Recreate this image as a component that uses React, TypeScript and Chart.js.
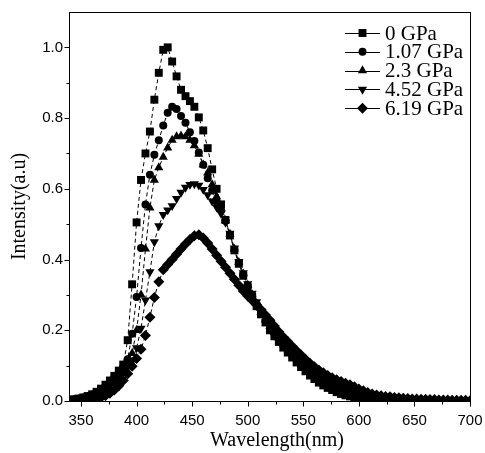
import React, { useEffect, useRef } from 'react';
import { Chart, registerables } from 'chart.js';
import { drawPoint } from 'chart.js/helpers';
Chart.register(...registerables);

const wavelengths = [
  340, 344, 348, 352, 356, 360, 364, 368, 372, 376,
  380, 384, 388, 392, 396, 400, 404, 408, 412, 416,
  420, 424, 428, 432, 436, 440, 444, 448, 452, 456,
  460, 464, 468, 472, 476, 480, 484, 488, 492, 496,
  500, 504, 508, 512, 516, 520, 524, 528, 532, 536,
  540, 544, 548, 552, 556, 560, 564, 568, 572, 576,
  580, 584, 588, 592, 596, 600, 604, 608, 612, 616,
  620, 624, 628, 632, 636, 640, 644, 648, 652, 656,
  660, 664, 668, 672, 676, 680, 684, 688, 692, 696,
  700,
];

const seriesLabels = ['0 GPa', '1.07 GPa', '2.3 GPa', '4.52 GPa', '6.19 GPa'];

const gpa0 = [
  0.003, 0.005, 0.007, 0.010, 0.014, 0.019, 0.026, 0.035, 0.046, 0.058,
  0.071, 0.086, 0.103, 0.172, 0.330, 0.505, 0.625, 0.700, 0.762, 0.852,
  0.928, 0.993, 1.000, 0.960, 0.918, 0.880, 0.862, 0.848, 0.832, 0.802,
  0.765, 0.715, 0.655, 0.600, 0.556, 0.512, 0.468, 0.426, 0.388, 0.354,
  0.322, 0.295, 0.268, 0.245, 0.222, 0.200, 0.183, 0.167, 0.151, 0.137,
  0.123, 0.109, 0.096, 0.084, 0.072, 0.062, 0.052, 0.044, 0.037, 0.031,
  0.025, 0.020, 0.016, 0.013, 0.010, 0.008, 0.006, 0.005, 0.004, 0.003,
  0.002, 0.002, 0.001, 0.001, 0.001, 0.001, 0.001, 0.000, 0.000, 0.000,
  0.000, 0.000, 0.000, 0.000, 0.000, 0.000, 0.000, 0.000, 0.000, 0.000,
  0.000,
];

const gpa107 = [
  0.002, 0.004, 0.006, 0.009, 0.013, 0.018, 0.024, 0.032, 0.042, 0.054,
  0.067, 0.081, 0.097, 0.118, 0.190, 0.294, 0.433, 0.556, 0.640, 0.696,
  0.737, 0.779, 0.815, 0.832, 0.826, 0.806, 0.787, 0.760, 0.735, 0.703,
  0.668, 0.630, 0.595, 0.565, 0.540, 0.510, 0.470, 0.428, 0.390, 0.357,
  0.325, 0.298, 0.272, 0.248, 0.226, 0.205, 0.189, 0.173, 0.157, 0.143,
  0.129, 0.116, 0.103, 0.091, 0.080, 0.069, 0.060, 0.051, 0.044, 0.037,
  0.031, 0.026, 0.022, 0.018, 0.015, 0.012, 0.010, 0.008, 0.006, 0.005,
  0.004, 0.003, 0.003, 0.002, 0.002, 0.002, 0.001, 0.001, 0.001, 0.001,
  0.001, 0.001, 0.000, 0.000, 0.000, 0.000, 0.000, 0.000, 0.000, 0.000,
  0.000,
];

const gpa23 = [
  0.002, 0.003, 0.005, 0.008, 0.011, 0.016, 0.022, 0.030, 0.039, 0.050,
  0.062, 0.076, 0.092, 0.110, 0.135, 0.200, 0.300, 0.430, 0.546, 0.625,
  0.660, 0.690, 0.716, 0.738, 0.748, 0.750, 0.748, 0.738, 0.722, 0.698,
  0.668, 0.645, 0.612, 0.578, 0.545, 0.510, 0.472, 0.430, 0.392, 0.360,
  0.328, 0.301, 0.276, 0.251, 0.230, 0.211, 0.195, 0.179, 0.164, 0.150,
  0.136, 0.123, 0.110, 0.098, 0.087, 0.077, 0.067, 0.058, 0.051, 0.044,
  0.038, 0.033, 0.028, 0.024, 0.020, 0.017, 0.014, 0.011, 0.009, 0.007,
  0.006, 0.005, 0.004, 0.003, 0.003, 0.002, 0.002, 0.002, 0.001, 0.001,
  0.001, 0.001, 0.001, 0.001, 0.000, 0.000, 0.000, 0.000, 0.000, 0.000,
  0.000,
];

const gpa452 = [
  0.001, 0.002, 0.004, 0.006, 0.009, 0.013, 0.018, 0.025, 0.033, 0.043,
  0.054, 0.066, 0.080, 0.096, 0.115, 0.150, 0.205, 0.285, 0.365, 0.450,
  0.495, 0.527, 0.540, 0.552, 0.572, 0.590, 0.604, 0.612, 0.614, 0.610,
  0.598, 0.583, 0.565, 0.548, 0.530, 0.505, 0.474, 0.432, 0.394, 0.362,
  0.331, 0.304, 0.280, 0.255, 0.235, 0.217, 0.201, 0.186, 0.171, 0.157,
  0.144, 0.131, 0.119, 0.107, 0.096, 0.086, 0.077, 0.068, 0.060, 0.053,
  0.047, 0.042, 0.037, 0.032, 0.028, 0.024, 0.020, 0.017, 0.014, 0.012,
  0.010, 0.008, 0.007, 0.006, 0.005, 0.004, 0.004, 0.003, 0.003, 0.002,
  0.002, 0.002, 0.002, 0.001, 0.001, 0.001, 0.001, 0.001, 0.001, 0.001,
  0.001,
];

const gpa619 = [
  0.000, 0.001, 0.002, 0.003, 0.004, 0.006, 0.008, 0.010, 0.015, 0.022,
  0.031, 0.043, 0.058, 0.077, 0.098, 0.120, 0.146, 0.185, 0.237, 0.293,
  0.337, 0.371, 0.386, 0.400, 0.415, 0.430, 0.444, 0.457, 0.467, 0.470,
  0.461, 0.447, 0.430, 0.412, 0.395, 0.378, 0.361, 0.344, 0.327, 0.311,
  0.297, 0.284, 0.272, 0.258, 0.243, 0.228, 0.212, 0.196, 0.181, 0.168,
  0.155, 0.142, 0.130, 0.118, 0.107, 0.097, 0.088, 0.080, 0.072, 0.066,
  0.060, 0.055, 0.050, 0.046, 0.040, 0.034, 0.029, 0.024, 0.020, 0.017,
  0.015, 0.013, 0.012, 0.010, 0.009, 0.008, 0.007, 0.006, 0.006, 0.005,
  0.005, 0.004, 0.004, 0.003, 0.003, 0.003, 0.002, 0.002, 0.002, 0.002,
  0.001,
];

const xTickValues = [350, 400, 450, 500, 550, 600, 650, 700];
const yTickValues = [0, 0.2, 0.4, 0.6, 0.8, 1.0];
const xTitle = 'Wavelength(nm)';
const yTitle = 'Intensity(a.u)';

const markerStyles = [
  { pointStyle: 'rect', radius: 5.6, rotation: 0 },
  { pointStyle: 'circle', radius: 4, rotation: 0 },
  { pointStyle: 'triangle', radius: 5.3, rotation: 0 },
  { pointStyle: 'triangle', radius: 5.3, rotation: 180 },
  { pointStyle: 'rectRot', radius: 5.5, rotation: 0 },
];

const SANS = '"Liberation Sans", Arial, sans-serif';
const SERIF = '"Liberation Serif", "Times New Roman", serif';

export default function App() {
  const ref = useRef<HTMLCanvasElement>(null);

  useEffect(() => {
    const series = [gpa0, gpa107, gpa23, gpa452, gpa619];
    const datasets = series.map((vals, i) => ({
      label: seriesLabels[i],
      data: wavelengths.map((w, j) => ({ x: w, y: vals[j] })),
      borderColor: '#000',
      borderWidth: 1,
      borderDash: [4, 3],
      backgroundColor: '#000',
      pointStyle: markerStyles[i].pointStyle,
      pointRadius: markerStyles[i].radius,
      pointRotation: markerStyles[i].rotation,
      pointBorderWidth: 0,
      pointBackgroundColor: '#000',
      pointBorderColor: '#000',
      tension: 0,
      fill: false,
      showLine: true,
    }));

    const framePlugin = {
      id: 'frame',
      afterDraw(chart: any) {
        const { ctx, chartArea: a, scales } = chart;
        const xs = scales.x;
        const ys = scales.y;
        ctx.save();
        ctx.strokeStyle = '#000';
        ctx.fillStyle = '#000';
        ctx.lineWidth = 1;
        ctx.setLineDash([]);
        ctx.strokeRect(Math.round(a.left) + 0.5, Math.round(a.top) + 0.5,
          Math.round(a.right - a.left), Math.round(a.bottom - a.top));
        ctx.beginPath();
        const bottom = Math.round(a.bottom) + 0.5;
        const left = Math.round(a.left) + 0.5;
        for (let k = 0; k < xTickValues.length; k++) {
          const px = Math.round(xs.getPixelForValue(xTickValues[k])) + 0.5;
          ctx.moveTo(px, bottom);
          ctx.lineTo(px, bottom + 5);
          if (k < xTickValues.length - 1) {
            const mv = (xTickValues[k] + xTickValues[k + 1]) / 2;
            const mx = Math.round(xs.getPixelForValue(mv)) + 0.5;
            ctx.moveTo(mx, bottom);
            ctx.lineTo(mx, bottom + 3);
          }
        }
        for (let k = 0; k < yTickValues.length; k++) {
          const py = Math.round(ys.getPixelForValue(yTickValues[k])) + 0.5;
          ctx.moveTo(left, py);
          ctx.lineTo(left - 5, py);
          if (k < yTickValues.length - 1) {
            const mv = (yTickValues[k] + yTickValues[k + 1]) / 2;
            const my = Math.round(ys.getPixelForValue(mv)) + 0.5;
            ctx.moveTo(left, my);
            ctx.lineTo(left - 3, my);
          }
        }
        ctx.stroke();

        ctx.font = `20px ${SERIF}`;
        ctx.textAlign = 'center';
        ctx.textBaseline = 'alphabetic';
        ctx.fillText(xTitle, 277, 446);
        ctx.save();
        ctx.translate(25, (a.top + a.bottom) / 2);
        ctx.rotate(-Math.PI / 2);
        ctx.fillText(yTitle, 0, 0);
        ctx.restore();

        ctx.font = `21px ${SERIF}`;
        ctx.textAlign = 'left';
        ctx.textBaseline = 'middle';
        chart.data.datasets.forEach((ds: any, i: number) => {
          const y = a.top + 21 + i * 18.8;
          const x0 = a.right - 125;
          const x1 = a.right - 90;
          ctx.beginPath();
          ctx.moveTo(x0, Math.round(y) + 0.5);
          ctx.lineTo(x1, Math.round(y) + 0.5);
          ctx.stroke();
          drawPoint(ctx, {
            pointStyle: markerStyles[i].pointStyle,
            radius: markerStyles[i].radius,
            rotation: markerStyles[i].rotation,
            borderWidth: 0,
          } as any, (x0 + x1) / 2, y);
          ctx.fillStyle = '#000';
          ctx.fillText(ds.label, a.right - 85, y + 1);
        });
        ctx.restore();
      },
    };

    const chart = new Chart(ref.current as HTMLCanvasElement, {
      type: 'scatter',
      data: { datasets: datasets as any },
      options: {
        responsive: false,
        animation: false,
        devicePixelRatio: 1,
        layout: { padding: { top: 12, right: 15, left: 0, bottom: 0 } },
        plugins: { legend: { display: false }, tooltip: { enabled: false } },
        scales: {
          x: {
            type: 'linear',
            min: 339.2,
            max: 700,
            grid: { display: false, drawTicks: false },
            border: { display: false },
            afterBuildTicks: (s: any) => { s.ticks = xTickValues.map((v) => ({ value: v })); },
            afterFit: (s: any) => { s.height = 52; s.paddingLeft = 0; s.paddingRight = 0; },
            ticks: {
              color: '#000',
              font: { family: SANS, size: 15 },
              padding: 11,
              maxRotation: 0,
              autoSkip: false,
              callback: (v: any) => String(v),
            },
          },
          y: {
            type: 'linear',
            min: 0,
            max: 1.1,
            grid: { display: false, drawTicks: false },
            border: { display: false },
            afterBuildTicks: (s: any) => { s.ticks = yTickValues.map((v) => ({ value: v })); },
            afterFit: (s: any) => { s.width = 69; s.paddingTop = 0; s.paddingBottom = 0; },
            ticks: {
              color: '#000',
              font: { family: SANS, size: 15 },
              padding: 6,
              autoSkip: false,
              callback: (v: any) => Number(v).toFixed(1),
            },
          },
        },
      } as any,
      plugins: [framePlugin],
    });
    return () => chart.destroy();
  }, []);

  return (
    <div style={{ position: 'absolute', left: 0, top: 0, width: 485, height: 453, background: '#fff' }}>
      <canvas ref={ref} width={485} height={453} style={{ width: 485, height: 453, display: 'block' }} />
    </div>
  );
}
